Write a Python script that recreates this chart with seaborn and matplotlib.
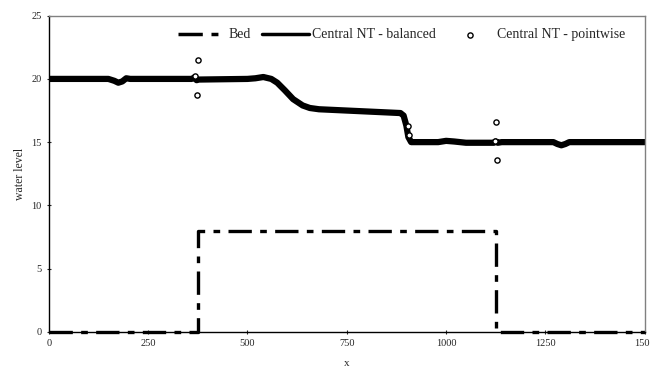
import matplotlib
matplotlib.use("Agg")
import matplotlib.pyplot as plt
import seaborn as sns
import numpy as np
import pandas as pd

### bed profile (step)
BED_X = [0, 375, 375, 1125, 1125, 1500]
BED_Y = [0, 0, 8, 8, 0, 0]

### water level, balanced scheme
BAL_X = [0, 150, 165, 175, 185, 195, 205, 360, 368, 372, 378, 500, 520, 540,
         560, 575, 594, 615, 639, 657, 680, 885, 893, 900, 905, 912, 950, 980,
         1000, 1020, 1050, 1120, 1125, 1130, 1140, 1270, 1280, 1290, 1300,
         1310, 1500]
BAL_Y = [20.0, 20.0, 19.85, 19.7, 19.8, 20.05, 20.0, 20.0, 20.15, 19.9, 19.95,
         20.0, 20.05, 20.15, 20.0, 19.7, 19.1, 18.4, 17.9, 17.7, 17.6, 17.3,
         17.1, 16.3, 15.4, 15.0, 15.0, 15.0, 15.1, 15.05, 14.95, 14.95, 15.05,
         14.95, 15.0, 15.0, 14.85, 14.75, 14.85, 15.0, 15.0]

### pointwise scheme, only the points that leave the balanced curve
PW_X = [367, 372, 376, 903, 906, 1124, 1126, 1128]
PW_Y = [20.2, 18.7, 21.5, 16.3, 15.6, 15.1, 16.6, 13.6]

BED_STYLE = (0, (7, 2.5, 2, 2.5))

sns.set_style("white")
plt.rcParams['font.family'] = ['Liberation Serif', 'DejaVu Serif']

fig = plt.figure(figsize=(6.5, 3.74), dpi=100)
ax = fig.add_axes([0.075, 0.113, 0.917, 0.845])

sns.lineplot(x=BED_X, y=BED_Y, sort=False, estimator=None, ax=ax,
             color="black", linewidth=2.4, dashes=False, label="Bed")
ax.lines[-1].set_linestyle(BED_STYLE)
ax.lines[-1].set_clip_on(False)
sns.lineplot(x=BAL_X, y=BAL_Y, sort=False, estimator=None, ax=ax,
             color="black", linewidth=4.5, label="Central NT - balanced")
sns.scatterplot(x=PW_X, y=PW_Y, ax=ax, marker="o", s=14,
                facecolor="white", edgecolor="black", linewidth=1,
                label="Central NT - pointwise", zorder=5)

ax.set_xlim(0, 1500)
ax.set_ylim(0, 25)
ax.set_xticks([0, 250, 500, 750, 1000, 1250, 1500])
ax.set_yticks([0, 5, 10, 15, 20, 25])
ax.tick_params(axis="both", labelsize=7.5, length=3, width=0.8,
               direction="inout", bottom=True, left=True)
ax.set_xlabel("x", fontsize=8, labelpad=8)
ax.set_ylabel("water level", fontsize=8.5)

for s in ["left", "bottom"]:
    ax.spines[s].set_color("black")
    ax.spines[s].set_linewidth(1)
for s in ["top", "right"]:
    ax.spines[s].set_color("#808080")
    ax.spines[s].set_linewidth(1)

leg = ax.legend(ncol=3, fontsize=10, frameon=False, loc="center",
                bbox_to_anchor=(0.592, 0.939), handlelength=3.4,
                handletextpad=0.2, columnspacing=0.8)
for h in leg.legend_handles[:2]:
    h.set_linewidth(2.5)
leg.legend_handles[0].set_linestyle(BED_STYLE)

fig.savefig("out.png", dpi=100)
